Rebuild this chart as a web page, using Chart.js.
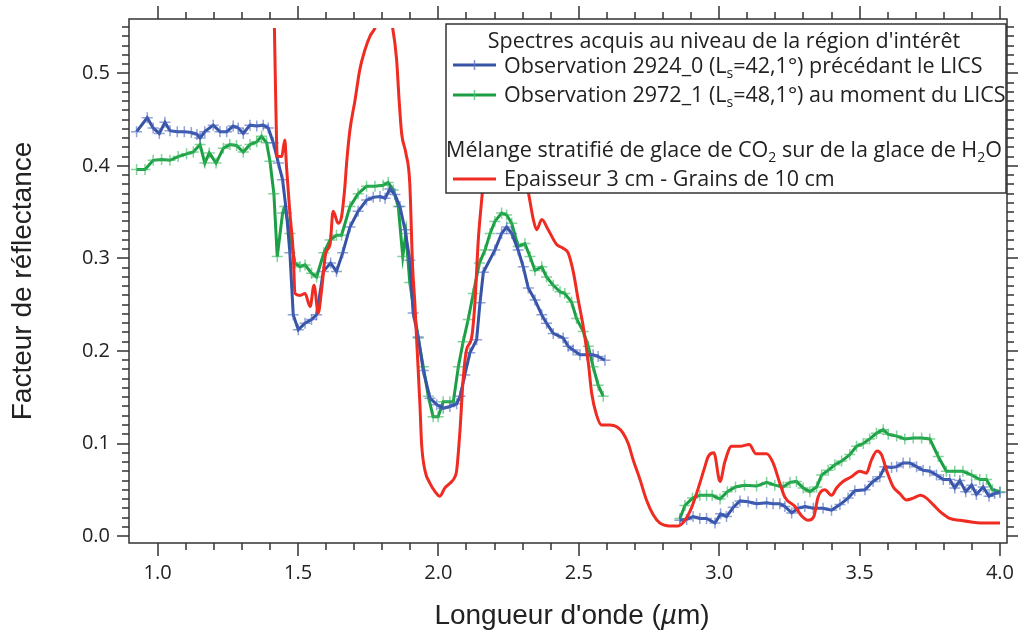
<!DOCTYPE html>
<html>
<head>
<meta charset="utf-8">
<script src="https://cdn.jsdelivr.net/npm/chart.js@4.4.0/dist/chart.umd.min.js"></script>
<style>
html, body { margin: 0; padding: 0; background: #fff; }
</style>
</head>
<body>
<canvas id="chart" width="1018" height="631"></canvas>
<script>
// Observation 2924_0 (blue)
const blueWave = [0.925, 0.963, 0.984, 1.006, 1.026, 1.044, 1.07, 1.095, 1.12, 1.14, 1.151, 1.168, 1.198, 1.222, 1.246, 1.269, 1.287, 1.305, 1.329, 1.353, 1.376, 1.394, 1.412, 1.43, 1.445, 1.459, 1.471, 1.483, 1.501, 1.525, 1.548, 1.566, 1.59, 1.616, 1.637, 1.659, 1.685, 1.714, 1.744, 1.768, 1.792, 1.81, 1.827, 1.845, 1.863, 1.881, 1.898, 1.91, 1.928, 1.946, 1.97, 1.994, 2.017, 2.041, 2.065, 2.077, 2.094, 2.112, 2.136, 2.148, 2.16, 2.201, 2.225, 2.243, 2.261, 2.284, 2.302, 2.32, 2.344, 2.368, 2.385, 2.409, 2.444, 2.462, 2.48, 2.504, 2.528, 2.551, 2.569, 2.593,
  2.7,
  2.86, 2.884, 2.907, 2.931, 2.955, 2.985, 3.005, 3.026, 3.05, 3.074, 3.103, 3.133, 3.169, 3.192, 3.216, 3.234, 3.258, 3.281, 3.305, 3.335, 3.37, 3.4, 3.43, 3.459, 3.483, 3.519, 3.548, 3.572, 3.59, 3.614, 3.632, 3.655, 3.679, 3.703, 3.726, 3.75, 3.774, 3.798, 3.821, 3.839, 3.857, 3.878, 3.899, 3.916, 3.94, 3.961, 3.981, 4.0];
const blueRefl = [0.437, 0.452, 0.441, 0.435, 0.447, 0.438, 0.437, 0.437, 0.436, 0.434, 0.43, 0.437, 0.444, 0.437, 0.437, 0.443, 0.441, 0.435, 0.444, 0.443, 0.444, 0.441, 0.425, 0.403, 0.385, 0.349, 0.306, 0.239, 0.223, 0.23, 0.234, 0.239, 0.286, 0.295, 0.286, 0.306, 0.334, 0.351, 0.363, 0.366, 0.367, 0.365, 0.375, 0.369, 0.356, 0.331, 0.298, 0.241, 0.215, 0.179, 0.149, 0.142, 0.138, 0.14, 0.143, 0.151, 0.174, 0.198, 0.212, 0.252, 0.285, 0.309, 0.327, 0.334, 0.327, 0.309, 0.291, 0.268, 0.255, 0.239, 0.23, 0.219, 0.214, 0.205, 0.201, 0.196, 0.196, 0.196, 0.194, 0.19,
  null,
  0.017, 0.018, 0.021, 0.019, 0.019, 0.014, 0.024, 0.021, 0.031, 0.038, 0.037, 0.035, 0.036, 0.035, 0.035, 0.032, 0.025, 0.03, 0.032, 0.03, 0.03, 0.028, 0.034, 0.041, 0.049, 0.05, 0.059, 0.064, 0.075, 0.074, 0.075, 0.079, 0.079, 0.075, 0.071, 0.07, 0.066, 0.061, 0.061, 0.052, 0.06, 0.048, 0.055, 0.045, 0.053, 0.043, 0.046, 0.047];

// Observation 2972_1 (green)
const greenWave = [0.925, 0.955, 0.984, 1.014, 1.044, 1.073, 1.103, 1.127, 1.151, 1.168, 1.184, 1.208, 1.234, 1.257, 1.281, 1.305, 1.329, 1.353, 1.37, 1.388, 1.4, 1.414, 1.426, 1.445, 1.453, 1.471, 1.489, 1.507, 1.525, 1.548, 1.566, 1.592, 1.614, 1.637, 1.655, 1.685, 1.714, 1.744, 1.774, 1.803, 1.821, 1.839, 1.857, 1.873, 1.884, 1.898, 1.928, 1.946, 1.964, 1.981, 1.999, 2.017, 2.041, 2.053, 2.071, 2.088, 2.106, 2.124, 2.146, 2.166, 2.184, 2.201, 2.225, 2.243, 2.261, 2.284, 2.308, 2.326, 2.344, 2.368, 2.385, 2.409, 2.433, 2.45, 2.474, 2.492, 2.516, 2.534, 2.551, 2.569, 2.587,
  2.7,
  2.86, 2.878, 2.905, 2.931, 2.955, 2.975, 3.003, 3.029, 3.058, 3.09, 3.133, 3.169, 3.198, 3.228, 3.252, 3.275, 3.299, 3.323, 3.347, 3.365, 3.388, 3.412, 3.436, 3.465, 3.489, 3.513, 3.536, 3.56, 3.584, 3.602, 3.632, 3.661, 3.691, 3.721, 3.75, 3.78, 3.809, 3.839, 3.868, 3.899, 3.928, 3.952, 3.973, 4.0];
const greenRefl = [0.396, 0.396, 0.406, 0.407, 0.406, 0.41, 0.413, 0.415, 0.423, 0.403, 0.414, 0.403, 0.419, 0.423, 0.422, 0.415, 0.423, 0.426, 0.432, 0.425, 0.405, 0.37, 0.302, 0.349, 0.356, 0.327, 0.295, 0.291, 0.293, 0.284, 0.28, 0.306, 0.32, 0.325, 0.325, 0.356, 0.37, 0.378, 0.378, 0.379, 0.382, 0.374, 0.356, 0.302, 0.327, 0.274, 0.214, 0.183, 0.151, 0.129, 0.129, 0.145, 0.145, 0.145, 0.183, 0.21, 0.234, 0.262, 0.295, 0.309, 0.327, 0.34, 0.349, 0.347, 0.338, 0.313, 0.316, 0.302, 0.287, 0.291, 0.28, 0.271, 0.264, 0.262, 0.253, 0.235, 0.221, 0.205, 0.183, 0.163, 0.151,
  null,
  0.019, 0.033, 0.041, 0.044, 0.044, 0.044, 0.04, 0.048, 0.053, 0.055, 0.054, 0.058, 0.055, 0.053, 0.058, 0.059, 0.052, 0.048, 0.053, 0.066, 0.071, 0.077, 0.081, 0.088, 0.097, 0.1, 0.105, 0.111, 0.115, 0.11, 0.108, 0.105, 0.106, 0.106, 0.105, 0.086, 0.07, 0.07, 0.07, 0.066, 0.061, 0.061, 0.05, 0.048];

// Modele : CO2 sur H2O, epaisseur 3 cm, grains 10 cm (red)
const modelWave = [1.413, 1.42, 1.426, 1.442, 1.453, 1.459, 1.471, 1.483, 1.489, 1.507, 1.525, 1.543, 1.557, 1.572, 1.584, 1.599, 1.614, 1.625, 1.643, 1.655, 1.667, 1.673, 1.685, 1.703, 1.72, 1.738, 1.756, 1.774, 1.79, 1.806, 1.822, 1.837, 1.851, 1.86, 1.869, 1.884, 1.898, 1.908, 1.916, 1.922, 1.934, 1.94, 1.952, 1.97, 1.988, 2.005, 2.023, 2.041, 2.059, 2.065, 2.077, 2.088, 2.1, 2.118, 2.13, 2.142, 2.154, 2.175, 2.21, 2.25, 2.29, 2.323, 2.338, 2.35, 2.368, 2.391, 2.421, 2.444, 2.462, 2.48, 2.498, 2.516, 2.534, 2.546, 2.563, 2.581, 2.611, 2.635, 2.658, 2.676, 2.694, 2.718, 2.741, 2.765, 2.789, 2.823, 2.853, 2.878, 2.902, 2.931, 2.949, 2.961, 2.981, 3.003, 3.02, 3.044, 3.074, 3.107, 3.131, 3.169, 3.192, 3.216, 3.234, 3.27, 3.293, 3.317, 3.337, 3.352, 3.376, 3.4, 3.418, 3.441, 3.471, 3.5, 3.524, 3.542, 3.562, 3.578, 3.596, 3.62, 3.643, 3.667, 3.691, 3.717, 3.738, 3.762, 3.792, 3.821, 3.857, 3.904, 3.952, 4.0];
const modelRefl = [0.6, 0.48, 0.41, 0.41, 0.428, 0.399, 0.349, 0.306, 0.262, 0.26, 0.262, 0.248, 0.271, 0.241, 0.266, 0.306, 0.315, 0.351, 0.338, 0.345, 0.378, 0.403, 0.439, 0.471, 0.504, 0.525, 0.54, 0.549, 0.565, 0.572, 0.565, 0.549, 0.515, 0.471, 0.435, 0.414, 0.381, 0.291, 0.252, 0.215, 0.143, 0.1, 0.071, 0.057, 0.048, 0.043, 0.052, 0.057, 0.064, 0.071, 0.115, 0.169, 0.201, 0.214, 0.252, 0.32, 0.363, 0.43, 0.47, 0.46, 0.42, 0.367, 0.342, 0.331, 0.342, 0.331, 0.315, 0.311, 0.306, 0.286, 0.255, 0.226, 0.187, 0.154, 0.131, 0.12, 0.12, 0.118, 0.111, 0.1, 0.082, 0.061, 0.039, 0.023, 0.014, 0.011, 0.011, 0.017, 0.031, 0.057, 0.075, 0.086, 0.09, 0.059, 0.08, 0.097, 0.097, 0.099, 0.089, 0.089, 0.079, 0.057, 0.042, 0.032, 0.022, 0.017, 0.021, 0.042, 0.05, 0.044, 0.052, 0.059, 0.064, 0.07, 0.068, 0.082, 0.092, 0.088, 0.071, 0.053, 0.046, 0.039, 0.041, 0.044, 0.041, 0.034, 0.025, 0.019, 0.017, 0.015, 0.014, 0.014];

const xTicks = [1.0, 1.5, 2.0, 2.5, 3.0, 3.5, 4.0];
const yTicks = [0.0, 0.1, 0.2, 0.3, 0.4, 0.5];

// text runs, {t: text, sub: subscript, it: italic}
const legendTitle1 = [{t: "Spectres acquis au niveau de la région d'intérêt"}];
const legendBlue = [{t: 'Observation 2924_0 (L'}, {t: 's', sub: true}, {t: '=42,1°) précédant le LICS'}];
const legendGreen = [{t: 'Observation 2972_1 (L'}, {t: 's', sub: true}, {t: '=48,1°) au moment du LICS'}];
const legendTitle2 = [{t: 'Mélange stratifié de glace de CO'}, {t: '2', sub: true}, {t: ' sur de la glace de H'}, {t: '2', sub: true}, {t: 'O'}];
const legendRed = [{t: 'Epaisseur 3 cm - Grains de 10 cm'}];
const xTitle = [{t: "Longueur d'onde ("}, {t: 'µ', it: true}, {t: 'm)'}];

const BLUE = '#3653a5', GREEN = '#1c9f44', RED = '#ef2b22';

function toPoints(xs, ys) {
    return xs.map((x, i) => ({x: x, y: ys[i]}));
}

function drawRuns(ctx, runs, x, y, center, fam, size) {
    fam = fam || '"Open Sans"';
    size = size || 21.5;
    const fontOf = r => (r.it ? 'italic ' : '') + (r.sub ? 14 : size) + 'px ' + fam;
    let w = 0;
    runs.forEach(r => { ctx.font = fontOf(r); w += ctx.measureText(r.t).width; });
    let cx = center ? x - w / 2 : x;
    runs.forEach(r => {
        ctx.font = fontOf(r);
        ctx.fillText(r.t, cx, r.sub ? y + 5 : y);
        cx += ctx.measureText(r.t).width;
    });
}

function sample(ctx, x, y, color, marker) {
    ctx.strokeStyle = color;
    ctx.lineWidth = 3;
    ctx.beginPath(); ctx.moveTo(x, y); ctx.lineTo(x + 43, y); ctx.stroke();
    if (marker) {
        ctx.lineWidth = 1.5;
        ctx.strokeStyle = marker;
        ctx.beginPath(); ctx.moveTo(x + 21.5, y - 5); ctx.lineTo(x + 21.5, y + 5); ctx.stroke();
    }
}

// no extra label padding: the plot box is placed by layout.padding and afterFit
function noPad(s) {
    s.paddingTop = 0; s.paddingBottom = 0; s.paddingLeft = 0; s.paddingRight = 0;
}

const framePlugin = {
    id: 'frame',
    afterDraw(chart) {
        const ctx = chart.ctx, a = chart.chartArea;
        const xs = chart.scales.x, ys = chart.scales.y;
        ctx.save();
        // ticks on all four sides
        ctx.strokeStyle = '#333';
        ctx.lineWidth = 1.5;
        ctx.beginPath();
        for (let i = 10; i <= 40; i++) {
            const px = Math.round(xs.getPixelForValue(i / 10));
            const len = i % 5 === 0 ? 13 : 7;
            ctx.moveTo(px, a.bottom); ctx.lineTo(px, a.bottom + len);
            ctx.moveTo(px, a.top); ctx.lineTo(px, a.top - len);
        }
        for (let i = 0; i <= 55; i++) {
            const py = Math.round(ys.getPixelForValue(i / 100));
            const len = i % 10 === 0 ? 12 : 7;
            ctx.moveTo(a.left, py); ctx.lineTo(a.left - len, py);
            ctx.moveTo(a.right, py); ctx.lineTo(a.right + len, py);
        }
        ctx.stroke();
        ctx.strokeRect(a.left, a.top, a.right - a.left, a.bottom - a.top);

        // x axis title, with italic mu
        ctx.fillStyle = '#222';
        ctx.textBaseline = 'alphabetic';
        ctx.textAlign = 'left';
        drawRuns(ctx, xTitle, (a.left + a.right) / 2 + 4, 624, true, '"Liberation Sans"', 28);

        // legend box
        const L = 446, T = a.top + 5, R = a.right - 1, B = a.top + 174;
        ctx.fillStyle = '#fff';
        ctx.fillRect(L, T, R - L, B - T);
        ctx.strokeStyle = '#333';
        ctx.lineWidth = 1.5;
        ctx.strokeRect(L, T, R - L, B - T);

        ctx.fillStyle = '#222';
        const mid = (L + R) / 2 - 2;
        drawRuns(ctx, legendTitle1, mid, T + 24, true);
        sample(ctx, L + 7, T + 41, BLUE, 'rgba(90,120,200,0.8)');
        ctx.fillStyle = '#222';
        drawRuns(ctx, legendBlue, L + 58, T + 49, false);
        sample(ctx, L + 7, T + 71, GREEN, 'rgba(80,190,110,0.8)');
        ctx.fillStyle = '#222';
        drawRuns(ctx, legendGreen, L + 58, T + 78, false);
        drawRuns(ctx, legendTitle2, mid, T + 133, true);
        sample(ctx, L + 7, T + 155, RED, null);
        ctx.fillStyle = '#222';
        drawRuns(ctx, legendRed, L + 58, T + 162, false);
        ctx.restore();
    }
};

const ctx = document.getElementById('chart');
new Chart(ctx, {
    type: 'line',
    data: {
        datasets: [
            {
                label: 'Epaisseur 3 cm - Grains de 10 cm',
                data: toPoints(modelWave, modelRefl),
                borderColor: RED,
                borderWidth: 3,
                pointRadius: 0,
                cubicInterpolationMode: 'monotone',
                clip: {left: 0, top: -9, right: 0, bottom: 0},
                order: 0
            },
            {
                label: 'Observation 2924_0',
                data: toPoints(blueWave, blueRefl),
                borderColor: BLUE,
                borderWidth: 3,
                pointStyle: 'cross',
                pointRadius: 5.5,
                pointBorderWidth: 1.5,
                pointBorderColor: 'rgba(70,100,190,0.6)',
                spanGaps: false,
                order: 1
            },
            {
                label: 'Observation 2972_1',
                data: toPoints(greenWave, greenRefl),
                borderColor: GREEN,
                borderWidth: 3,
                pointStyle: 'cross',
                pointRadius: 5.5,
                pointBorderWidth: 1.5,
                pointBorderColor: 'rgba(50,180,90,0.6)',
                spanGaps: false,
                order: 2
            }
        ]
    },
    options: {
        responsive: false,
        animation: false,
        events: [],
        layout: {padding: {left: 0, right: 11, top: 19, bottom: 0}},
        plugins: {legend: {display: false}, tooltip: {enabled: false}},
        scales: {
            x: {
                type: 'linear',
                min: 0.898,
                max: 4.025,
                grid: {display: false, drawTicks: false},
                border: {display: false},
                afterBuildTicks: s => { s.ticks = xTicks.map(v => ({value: v})); },
                afterFit: s => { s.height = 88; noPad(s); },
                ticks: {
                    padding: 18,
                    color: '#222',
                    font: {family: 'Open Sans', size: 20},
                    maxRotation: 0,
                    callback: v => v.toFixed(1)
                }
            },
            y: {
                type: 'linear',
                min: -0.0075,
                max: 0.5587,
                grid: {display: false, drawTicks: false},
                border: {display: false},
                afterBuildTicks: s => { s.ticks = yTicks.map(v => ({value: v})); },
                afterFit: s => { s.width = 129; noPad(s); },
                ticks: {
                    padding: 19,
                    color: '#222',
                    font: {family: 'Open Sans', size: 20},
                    callback: v => v.toFixed(1)
                },
                title: {
                    display: true,
                    text: 'Facteur de réflectance',
                    color: '#222',
                    font: {family: 'Liberation Sans', size: 28},
                    padding: {top: 6, bottom: 0}
                }
            }
        }
    },
    plugins: [framePlugin]
});
</script>
</body>
</html>
